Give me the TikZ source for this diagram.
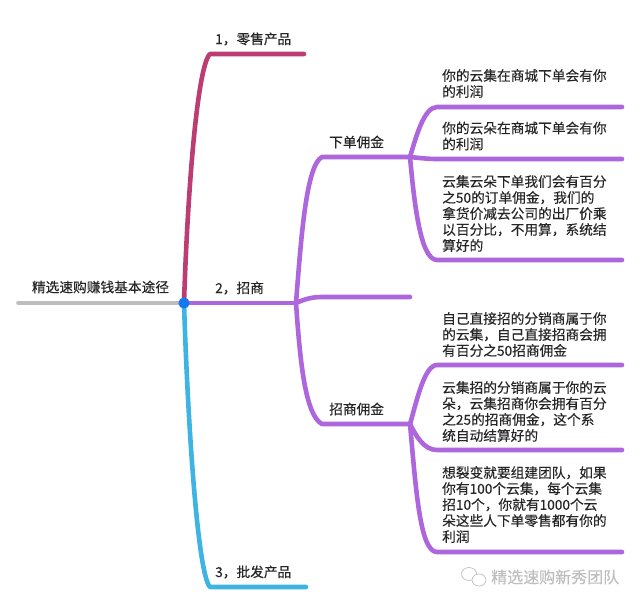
\documentclass[tikz,border=0pt]{standalone}
\usepackage{fontspec}
\setmainfont[FakeBold=0.25]{Noto Sans CJK SC}
\definecolor{rootgray}{HTML}{BDBDBD}
\definecolor{retailred}{HTML}{BC3D72}
\definecolor{agentpurple}{HTML}{AE66DC}
\definecolor{bulkblue}{HTML}{3DB4E2}
\definecolor{hubblue}{HTML}{1478EE}
\definecolor{marktext}{HTML}{BEBEBE}
\tikzset{
  txt/.style={font=\fontsize{13.7}{16}\selectfont, text=black!85, inner sep=0pt},
  para/.style={txt, anchor=west, align=left},
  branch/.style={line width=4.6pt, line cap=round, line join=round},
  mark text/.style={font=\fontsize{16}{18}\selectfont, text=marktext, inner sep=0pt, anchor=west}
}
\begin{document}
\begin{tikzpicture}[x=1pt,y=-1pt]
\useasboundingbox (0,0) rectangle (640,606);

\coordinate (start) at (18,303);
\coordinate (hub) at (184,303);
\coordinate (retail) at (210,54);
\coordinate (retailend) at (304,54);
\coordinate (agent) at (296,303);
\coordinate (bulk) at (210,587);
\coordinate (bulkend) at (306,587);

\coordinate (order) at (322,157);
\coordinate (orderend) at (410,157);
\coordinate (blank) at (322,297);
\coordinate (blankend) at (410,297);
\coordinate (invite) at (322,424);
\coordinate (inviteend) at (410,424);

\coordinate (oa) at (437,107);
\coordinate (oaend) at (622,107);
\coordinate (ob) at (437,159);
\coordinate (obend) at (622,159);
\coordinate (oc) at (437,260);
\coordinate (ocend) at (622,260);
\coordinate (ia) at (437,365);
\coordinate (iaend) at (622,365);
\coordinate (ib) at (437,450);
\coordinate (ibend) at (622,450);
\coordinate (ic) at (437,552);
\coordinate (icend) at (622,552);

\draw[branch,rootgray,line width=3.6pt] (start)--(hub);
\draw[branch,retailred] (hub) .. controls (188,180) and (198,65) .. (retail)--(retailend);
\draw[branch,bulkblue] (hub) .. controls (188,430) and (198,575) .. (bulk)--(bulkend);
\draw[branch,agentpurple] (hub)--(agent);

\draw[branch,agentpurple] (agent) .. controls (301,240) and (306,165) .. (order)--(orderend);
\draw[branch,agentpurple] (agent) .. controls (303,300) and (310,297) .. (blank)--(blankend);
\draw[branch,agentpurple] (agent) .. controls (300,360) and (305,415) .. (invite)--(inviteend);

\draw[branch,agentpurple] (orderend) .. controls (416,137) and (424,107) .. (oa)--(oaend);
\draw[branch,agentpurple] (orderend) .. controls (420,158) and (428,159) .. (ob)--(obend);
\draw[branch,agentpurple] (orderend) .. controls (414,200) and (420,260) .. (oc)--(ocend);

\draw[branch,agentpurple] (inviteend) .. controls (416,404) and (424,365) .. (ia)--(iaend);
\draw[branch,agentpurple] (inviteend) .. controls (416,436) and (424,450) .. (ib)--(ibend);
\draw[branch,agentpurple] (inviteend) .. controls (416,490) and (420,552) .. (ic)--(icend);

\fill[hubblue] (hub) circle (5.6pt);

\node[txt] (title) at (100.5,287) {精选速购赚钱基本途径};
\node[para] (retaillabel) at (215,39) {1，零售产品};
\node[para] (agentlabel) at (215,288) {2，招商};
\node[para] (bulklabel) at (215,572) {3，批发产品};
\node[para] (orderlabel) at (329,142) {下单佣金};
\node[para] (invitelabel) at (329,409) {招商佣金};

\node[para] (oatext) at (442,83.5) {你的云集在商城下单会有你\\的利润};
\node[para] (obtext) at (442,136) {你的云朵在商城下单会有你\\的利润};
\node[para] (octext) at (442,213.5) {云集云朵下单我们会有百分\\之50的订单佣金，我们的\\拿货价减去公司的出厂价乘\\以百分比，不用算，系统结\\算好的};
\node[para] (iatext) at (442,334.5) {自己直接招的分销商属于你\\的云集，自己直接招商会拥\\有百分之50招商佣金};
\node[para] (ibtext) at (442,411.5) {云集招的分销商属于你的云\\朵，云集招商你会拥有百分\\之25的招商佣金，这个系\\统自动结算好的};
\node[para] (ictext) at (442,504.5) {想裂变就要组建团队，如果\\你有100个云集，每个云集\\招10个，你就有1000个云\\朵这些人下单零售都有你的\\利润};

\draw[marktext,line width=.7pt,fill=white] (469,574) ellipse [x radius=7.5, y radius=6.5];
\draw[marktext,line width=.7pt,fill=white] (479,580) ellipse [x radius=7, y radius=6];
\node[mark text] (marktitle) at (491,577) {精选速购新秀团队};
\end{tikzpicture}
\end{document}
